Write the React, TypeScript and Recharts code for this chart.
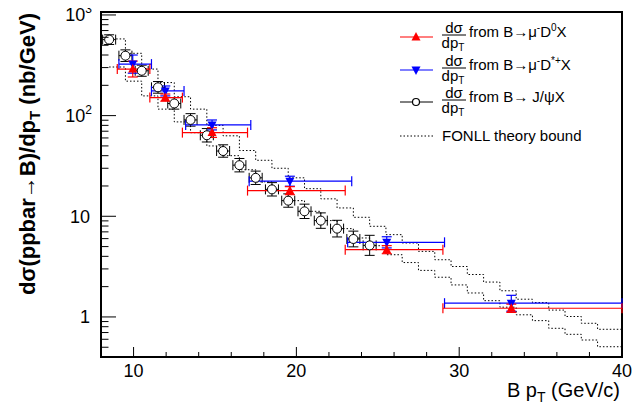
import React from "react";
import {
  ComposedChart,
  Line,
  Scatter,
  XAxis,
  YAxis,
  ErrorBar,
  ReferenceArea,
  Legend,
} from "recharts";

const FONT = "'Liberation Sans', Arial, Helvetica, sans-serif";

// B -> J/psi X (open circles)
const jpsiPt = [8.5, 9.5, 10.5, 11.5, 12.5, 13.5, 14.5, 15.5, 16.5, 17.5, 18.5, 19.5, 20.5, 21.5, 22.5, 23.5, 24.5];
const jpsiXsec = [569, 394, 279, 191, 132, 90.6, 63.8, 44.5, 32.2, 24.1, 18.5, 14.3, 11.2, 9.06, 7.54, 5.95, 5.14];
const jpsiErrUp = [66, 56, 38, 27, 19, 14, 10.6, 6.8, 5.3, 4.0, 3.1, 2.4, 2.0, 1.75, 1.58, 1.17, 1.33];
const jpsiErrDown = [60, 49, 33, 24, 16, 12, 9.1, 5.9, 4.6, 3.4, 2.6, 2.0, 1.7, 1.47, 1.31, 0.98, 1.05];
const jpsiPtErr = 0.4;

// B -> mu- D0 X (red)
const d0Pt = [9.95, 11.95, 14.82, 19.6, 25.55, 33.2];
const d0Lo = [9, 11, 13, 17, 23, 29];
const d0Hi = [11, 13, 17, 23, 29, 40];
const d0Xsec = [290, 151, 67.8, 18.0, 4.66, 1.22];
const d0ErrUp = [58, 13, 8, 1.7, 0.45, 0.12];
const d0ErrDown = [48, 12, 7, 1.6, 0.41, 0.11];

// B -> mu- D*+ X (blue)
const dstarPt = [9.95, 11.95, 14.82, 19.6, 25.55, 33.2];
const dstarLo = [9.1, 11.1, 13.2, 17.1, 23.15, 29.1];
const dstarHi = [11.1, 13.1, 17.2, 23.4, 29.1, 40];
const dstarXsec = [325, 176, 80.8, 22.3, 5.51, 1.37];
const dstarErrUp = [75, 21, 9.7, 2.7, 0.75, 0.27];
const dstarErrDown = [61, 19, 8.7, 2.4, 0.66, 0.23];

// FONLL theory band, 1 GeV steps (bin left edges, last edge closes the histogram)
const fonllEdges = [8.5, 9.5, 10.5, 11.5, 12.5, 13.5, 14.5, 15.5, 16.5, 17.5, 18.5, 19.5, 20.5, 21.5, 22.5, 23.5, 24.5, 25.5, 26.5, 27.5, 28.5, 29.5, 30.5, 31.5, 32.5, 33.5, 34.5, 35.5, 36.5, 37.5, 38.5, 40];
const fonllUpper = [578, 416, 290, 213, 154, 116, 80, 63, 45, 36, 30, 24.1, 18.8, 14.9, 12.1, 9.77, 7.95, 6.57, 5.43, 4.48, 3.7, 3.17, 2.64, 2.22, 1.82, 1.5, 1.39, 1.17, 1.01, 0.865, 0.754];
const fonllLower = [304, 220, 157, 116, 86.6, 67.7, 50, 40, 29, 22, 18, 14.3, 11.2, 9.06, 7.54, 6.09, 5.1, 4.15, 3.47, 2.9, 2.48, 2.08, 1.73, 1.45, 1.25, 1.05, 0.919, 0.771, 0.672, 0.59, 0.506];

const xTicks = [10, 12, 14, 16, 18, 20, 22, 24, 26, 28, 30, 32, 34, 36, 38, 40];
const yTicks = [
  0.5, 0.6, 0.7, 0.8, 0.9, 1, 2, 3, 4, 5, 6, 7, 8, 9, 10, 20, 30, 40, 50, 60, 70, 80, 90,
  100, 200, 300, 400, 500, 600, 700, 800, 900, 1000,
];

const jpsiData = jpsiPt.map((x, i) => ({
  x,
  y: jpsiXsec[i],
  ex: [jpsiPtErr, jpsiPtErr],
  ey: [jpsiErrDown[i], jpsiErrUp[i]],
}));
const d0Data = d0Pt.map((x, i) => ({
  x,
  y: d0Xsec[i],
  ex: [x - d0Lo[i], d0Hi[i] - x],
  ey: [d0ErrDown[i], d0ErrUp[i]],
}));
const dstarData = dstarPt.map((x, i) => ({
  x,
  y: dstarXsec[i],
  ex: [x - dstarLo[i], dstarHi[i] - x],
  ey: [dstarErrDown[i], dstarErrUp[i]],
}));
const upperData = fonllEdges.map((x, i) => ({ x, y: fonllUpper[Math.min(i, fonllUpper.length - 1)] }));
const lowerData = fonllEdges.map((x, i) => ({ x, y: fonllLower[Math.min(i, fonllLower.length - 1)] }));

const XTick = (props: any) => {
  const { x, y, payload } = props;
  const v = payload.value;
  const major = v % 10 === 0;
  return (
    <g>
      <line x1={x} x2={x} y1={y} y2={y - (major ? 10 : 5)} stroke="#000" />
      {major && (
        <text x={x} y={y + 20} textAnchor="middle" fontSize={18} fontFamily={FONT} fill="#000">
          {v}
        </text>
      )}
    </g>
  );
};

const YTick = (props: any) => {
  const { x, y, payload } = props;
  const v = payload.value;
  const exp = Math.round(Math.log10(v));
  const major = Math.abs(v - Math.pow(10, exp)) < 1e-6 * v;
  return (
    <g>
      <line x1={x} x2={x + (major ? 15 : 7.5)} y1={y} y2={y} stroke="#000" />
      {major && exp < 2 && (
        <text x={x - 11} y={y + 6.5} textAnchor="end" fontSize={18} fontFamily={FONT} fill="#000">
          {exp === 0 ? "1" : "10"}
        </text>
      )}
      {major && exp >= 2 && (
        <text x={x - 9} y={y + 6.5} textAnchor="end" fontSize={18} fontFamily={FONT} fill="#000">
          10
          <tspan dy={-8} fontSize={12}>
            {exp}
          </tspan>
        </text>
      )}
    </g>
  );
};

const YTitle = () => (
  <text
    x={35}
    y={13}
    transform="rotate(-90, 35, 13)"
    textAnchor="end"
    fontSize={22}
    fontWeight="bold"
    fontFamily={FONT}
    fill="#000"
  >
    dσ(ppbar→B)/dp
    <tspan dy={5} fontSize={15}>T</tspan>
    <tspan dy={-5}> (nb/GeV)</tspan>
  </text>
);

const XTitle = () => (
  <text x={620} y={397} textAnchor="end" fontSize={20} fontFamily={FONT} fill="#000">
    B p<tspan dy={5} fontSize={14}>T</tspan>
    <tspan dy={-5}> (GeV/c)</tspan>
  </text>
);

const NoMark = () => <g />;
const TriUp = (props: any) => {
  const { cx, cy } = props;
  return <polygon points={`${cx},${cy - 5} ${cx - 4.5},${cy + 3.5} ${cx + 4.5},${cy + 3.5}`} fill="#ff0000" />;
};
const TriDown = (props: any) => {
  const { cx, cy } = props;
  return <polygon points={`${cx},${cy + 5} ${cx - 4.5},${cy - 3.5} ${cx + 4.5},${cy - 3.5}`} fill="#0000ff" />;
};
const OpenCircle = (props: any) => {
  const { cx, cy } = props;
  return <circle cx={cx} cy={cy} r={4.5} fill="#fff" stroke="#000" strokeWidth={1} />;
};

const Fraction = ({ y }: { y: number }) => (
  <g>
    <text x={59} y={y - 4} textAnchor="middle" fontSize={15}>dσ</text>
    <line x1={47} x2={71} y1={y - 2} y2={y - 2} stroke="#000" />
    <text x={58} y={y + 11} textAnchor="middle" fontSize={15}>
      dp<tspan dy={3} fontSize={10}>T</tspan>
    </text>
  </g>
);

const renderLegend = () => {
  const rows = [19, 52, 84, 118];
  return (
    <svg width={240} height={135} style={{ display: "block", fontFamily: FONT }}>
      <line x1={5} x2={38} y1={rows[0]} y2={rows[0]} stroke="#ff0000" strokeWidth={1.2} />
      <polygon points={`21,${rows[0] - 5} 16.5,${rows[0] + 3.5} 25.5,${rows[0] + 3.5}`} fill="#ff0000" />
      <Fraction y={rows[0]} />
      <text x={74} y={rows[0] - 0.5} fontSize={15}>
        from B→μ<tspan dy={-6} fontSize={10}>-</tspan>
        <tspan dy={6}>D</tspan>
        <tspan dy={-6} fontSize={10}>0</tspan>
        <tspan dy={6}>X</tspan>
      </text>

      <line x1={5} x2={38} y1={rows[1]} y2={rows[1]} stroke="#0000ff" strokeWidth={1.2} />
      <polygon points={`21,${rows[1] + 5} 16.5,${rows[1] - 3.5} 25.5,${rows[1] - 3.5}`} fill="#0000ff" />
      <Fraction y={rows[1]} />
      <text x={74} y={rows[1] - 0.5} fontSize={15}>
        from B→μ<tspan dy={-6} fontSize={10}>-</tspan>
        <tspan dy={6}>D</tspan>
        <tspan dy={-6} fontSize={10}>*+</tspan>
        <tspan dy={6}>X</tspan>
      </text>

      <line x1={5} x2={38} y1={rows[2]} y2={rows[2]} stroke="#000" strokeWidth={1} />
      <circle cx={21} cy={rows[2]} r={3.5} fill="#fff" stroke="#000" strokeWidth={1.2} />
      <Fraction y={rows[2]} />
      <text x={74} y={rows[2]} fontSize={15}>
        from B→ J/ψX
      </text>

      <line x1={5} x2={38} y1={rows[3]} y2={rows[3]} stroke="#000" strokeDasharray="1.5 2" />
      <text x={47} y={rows[3] + 5} fontSize={15}>
        FONLL theory bound
      </text>
    </svg>
  );
};

export default function App() {
  return (
    <div style={{ width: 641, height: 407, margin: "-8px 0 0 -8px", background: "#fff" }}>
      <ComposedChart width={641} height={407} margin={{ top: 12, right: 19, bottom: 0, left: 0 }}>
        <XAxis
          dataKey="x"
          type="number"
          domain={[8, 40]}
          allowDataOverflow
          ticks={xTicks}
          interval={0}
          tickSize={0}
          tickMargin={0}
          tickLine={false}
          axisLine={false}
          height={50}
          tick={<XTick />}
          label={<XTitle />}
        />
        <YAxis
          type="number"
          scale="log"
          domain={[0.4, 1070]}
          allowDataOverflow
          ticks={yTicks}
          interval={0}
          tickSize={0}
          tickMargin={0}
          tickLine={false}
          axisLine={false}
          width={101}
          tick={<YTick />}
          label={<YTitle />}
        />
        <Legend
          layout="vertical"
          align="center"
          verticalAlign="middle"
          content={renderLegend}
          wrapperStyle={{ left: 395, top: 18, width: 240, height: 135 }}
        />
        <Line
          data={upperData}
          dataKey="y"
          type="stepAfter"
          stroke="#000"
          strokeWidth={1}
          strokeDasharray="1.5 2"
          dot={false}
          isAnimationActive={false}
          legendType="none"
        />
        <Line
          data={lowerData}
          dataKey="y"
          type="stepAfter"
          stroke="#000"
          strokeWidth={1}
          strokeDasharray="1.5 2"
          dot={false}
          isAnimationActive={false}
          legendType="none"
        />
        <Scatter data={jpsiData} dataKey="y" shape={<NoMark />} isAnimationActive={false}>
          <ErrorBar dataKey="ex" direction="x" stroke="#000" width={5} strokeWidth={1} />
          <ErrorBar dataKey="ey" direction="y" stroke="#000" width={5} strokeWidth={1} />
        </Scatter>
        <Scatter data={jpsiData} dataKey="y" shape={<OpenCircle />} isAnimationActive={false} zIndex={900} />
        <Scatter data={dstarData} dataKey="y" shape={<TriDown />} isAnimationActive={false} zIndex={900}>
          <ErrorBar dataKey="ex" direction="x" stroke="#0000ff" width={5} strokeWidth={1.2} />
          <ErrorBar dataKey="ey" direction="y" stroke="#0000ff" width={5} strokeWidth={1.2} />
        </Scatter>
        <Scatter data={d0Data} dataKey="y" shape={<TriUp />} isAnimationActive={false} zIndex={900}>
          <ErrorBar dataKey="ex" direction="x" stroke="#ff0000" width={5} strokeWidth={1.2} />
          <ErrorBar dataKey="ey" direction="y" stroke="#ff0000" width={5} strokeWidth={1.2} />
        </Scatter>
        <ReferenceArea
          x1={8}
          x2={40}
          y1={0.4}
          y2={1070}
          fill="none"
          fillOpacity={0}
          stroke="#000"
          strokeWidth={2}
          ifOverflow="visible"
        />
      </ComposedChart>
    </div>
  );
}
